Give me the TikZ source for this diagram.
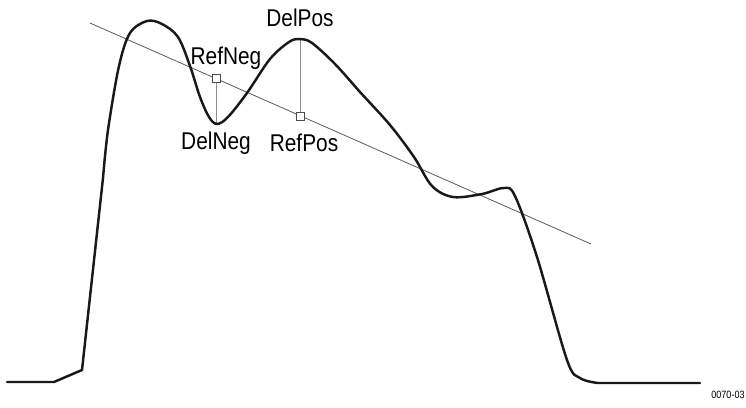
\documentclass[tikz,border=0pt]{standalone}
\usepackage{fontspec}
\setmainfont[FakeStretch=0.86]{Liberation Sans}

\begin{document}
\begin{tikzpicture}[x=0.02cm,y=-0.02cm,
  wave/.style={line width=1.4pt,line join=round,line cap=round,black!90},
  refline/.style={line width=0.45pt,black!65},
  dropline/.style={line width=0.5pt,black!45},
  refbox/.style={draw=black!70,line width=0.4pt,fill=white,minimum size=0.16cm,inner sep=0pt},
  lbl/.style={font=\fontsize{13.8}{15}\selectfont,inner sep=0pt}]
\useasboundingbox (0,0) rectangle (746,407);

\coordinate (linestart) at (90,23);
\coordinate (lineend) at (591,244);
\coordinate (delneg) at (216,124);
\coordinate (delpos) at (300,39);

\draw[refline] (linestart) -- (lineend);

\node[refbox] (refneg) at (216,78.5) {};
\node[refbox] (refpos) at (300,116) {};
\draw[dropline] (refneg) -- (delneg);
\draw[dropline] (delpos) -- (refpos);

\draw[wave] (7,382) -- (54,382) -- (82,370) -- (103,178)
  -- plot[smooth,tension=0.55] coordinates {(103,178) (108,130) (119,66) (130,33) (147,21)
  (162,24) (178,37) (190,66) (200,97) (209,117) (217,124) (228,117) (247,93) (270,59) (289,42)
  (300,39) (312,43) (335,64) (360,92) (390,125) (414,157) (432,186) (453,197) (482,194) (504,188)
  (515,196) (537,257) (567,360) (580,378) (598,383)} -- (700,383);

\node[lbl] (negtext) at (226,58) {RefNeg};
\node[lbl] (postext) at (300,18) {DelPos};
\node[lbl] (dnegtext) at (216,143) {DelNeg};
\node[lbl] (rpostext) at (304,143) {RefPos};
\node[font=\fontsize{6}{7}\selectfont,anchor=west,inner sep=0pt] (figid) at (711,395) {0070-03};
\end{tikzpicture}
\end{document}
